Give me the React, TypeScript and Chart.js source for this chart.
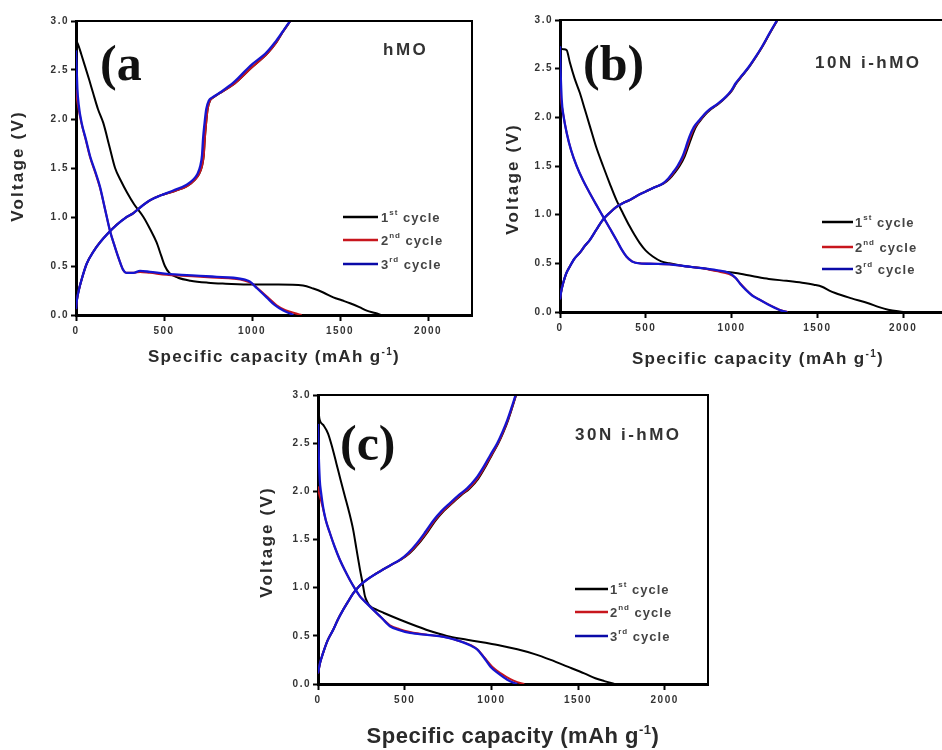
import React, { useEffect, useRef } from 'react';
import { Chart, registerables } from 'chart.js';

Chart.register(...registerables);

type P = [number, number][];

// ---------- axes ----------
const X_TICKS = [0, 500, 1000, 1500, 2000];
const Y_TICKS = [0, 0.5, 1.0, 1.5, 2.0, 2.5, 3.0];
const X_MAX = 2250;
const Y_MAX = 3.0;

// ---------- legend ----------
const CYCLE_LABELS: [string, string, string][] = [
  ['1', 'st', ' cycle'],
  ['2', 'nd', ' cycle'],
  ['3', 'rd', ' cycle'],
];
const CYCLE_COLORS = ['#000000', '#c8161d', '#1515d0'];

// ---------- panel (a) hMO : [capacity mAh/g, voltage V] ----------
const A_C1_DIS: P = [[0,2.80],[12,2.76],[30,2.66],[51,2.54],[75,2.40],[98,2.26],[125,2.10],[155,1.96],[190,1.72],[222,1.50],[255,1.37],[290,1.25],[330,1.13],[383,1.00],[420,0.88],[458,0.74],[485,0.60],[505,0.50],[530,0.43],[580,0.38],[650,0.35],[750,0.33],[850,0.32],[1000,0.31],[1150,0.31],[1290,0.30],[1348,0.27],[1405,0.23],[1462,0.18],[1510,0.15],[1557,0.12],[1610,0.08],[1652,0.044],[1700,0.02],[1737,0.0]];
const A_C1_CHG: P = [[0,0.06],[5,0.15],[13,0.23],[30,0.35],[60,0.52],[100,0.65],[136,0.74],[180,0.83],[231,0.92],[280,0.99],[326,1.04],[380,1.12],[420,1.17],[480,1.22],[553,1.26],[635,1.32],[675,1.38],[700,1.44],[716,1.52],[726,1.63],[732,1.80],[739,1.95],[748,2.10],[762,2.19],[780,2.22],[822,2.27],[900,2.36],[995,2.52],[1088,2.67],[1134,2.77],[1172,2.88],[1218,3.0]];
const A_C2_DIS: P = [[0,2.30],[6,2.20],[15,2.10],[32,1.95],[55,1.79],[80,1.61],[110,1.45],[136,1.30],[165,1.08],[193,0.86],[220,0.70],[250,0.54],[268,0.46],[285,0.43],[326,0.43],[364,0.44],[420,0.43],[515,0.41],[600,0.40],[705,0.39],[800,0.38],[894,0.37],[960,0.35],[1000,0.32],[1040,0.26],[1090,0.18],[1140,0.10],[1190,0.05],[1240,0.02],[1282,0.0]];
const A_C2_CHG: P = [[0,0.06],[5,0.15],[13,0.23],[30,0.35],[60,0.52],[100,0.65],[136,0.74],[180,0.83],[231,0.92],[280,0.99],[326,1.04],[380,1.12],[420,1.17],[480,1.22],[553,1.26],[635,1.32],[675,1.38],[700,1.44],[716,1.52],[726,1.63],[732,1.80],[739,1.95],[748,2.10],[762,2.19],[780,2.22],[822,2.27],[900,2.36],[995,2.52],[1088,2.67],[1134,2.77],[1172,2.88],[1218,3.0]];
const A_C3_DIS: P = [[0,2.70],[4,2.50],[8,2.30],[15,2.15],[32,1.96],[55,1.80],[80,1.62],[110,1.46],[136,1.31],[165,1.08],[193,0.86],[220,0.70],[250,0.54],[268,0.46],[285,0.43],[326,0.43],[364,0.45],[420,0.44],[515,0.42],[600,0.41],[705,0.40],[800,0.39],[894,0.38],[960,0.36],[989,0.34],[1030,0.27],[1083,0.18],[1130,0.10],[1178,0.045],[1210,0.02],[1235,0.0]];
const A_C3_CHG: P = [[0,0.06],[5,0.15],[13,0.23],[30,0.35],[60,0.52],[100,0.65],[136,0.74],[180,0.83],[231,0.92],[280,0.99],[326,1.04],[380,1.12],[420,1.17],[480,1.22],[553,1.27],[629,1.33],[665,1.38],[690,1.44],[706,1.52],[716,1.63],[722,1.80],[730,1.95],[740,2.10],[755,2.19],[775,2.22],[818,2.27],[894,2.37],[989,2.54],[1083,2.68],[1130,2.78],[1170,2.88],[1216,3.0]];

// ---------- panel (b) 10Ni-hMO ----------
const B_C1_DIS: P = [[0,2.71],[20,2.70],[39,2.69],[58,2.56],[85,2.40],[116,2.25],[145,2.08],[174,1.91],[210,1.70],[251,1.50],[290,1.32],[329,1.15],[368,1.01],[406,0.88],[435,0.79],[464,0.71],[500,0.63],[541,0.57],[590,0.52],[638,0.50],[730,0.47],[831,0.45],[930,0.42],[1024,0.40],[1120,0.37],[1217,0.34],[1320,0.32],[1411,0.30],[1480,0.28],[1527,0.26],[1570,0.22],[1604,0.195],[1700,0.14],[1797,0.09],[1860,0.05],[1913,0.024],[2000,0.0]];
const B_C1_CHG: P = [[0,0.13],[8,0.22],[19,0.30],[35,0.39],[58,0.47],[85,0.55],[116,0.61],[145,0.68],[174,0.74],[210,0.84],[251,0.95],[290,1.02],[329,1.08],[368,1.12],[406,1.15],[455,1.20],[502,1.24],[550,1.28],[605,1.32],[640,1.37],[668,1.43],[697,1.50],[727,1.60],[748,1.70],[768,1.80],[792,1.90],[820,1.97],[848,2.03],[878,2.08],[925,2.14],[970,2.21],[1004,2.28],[1028,2.35],[1064,2.43],[1104,2.52],[1142,2.62],[1181,2.73],[1222,2.86],[1268,3.0]];
const B_C2_DIS: P = [[0,2.40],[6,2.20],[12,2.10],[22,2.00],[39,1.84],[65,1.66],[97,1.50],[135,1.35],[174,1.22],[212,1.10],[251,0.98],[290,0.86],[329,0.74],[360,0.64],[387,0.57],[420,0.52],[464,0.50],[550,0.495],[638,0.49],[730,0.47],[831,0.45],[910,0.42],[986,0.39],[1024,0.35],[1052,0.29],[1085,0.23],[1122,0.17],[1160,0.13],[1212,0.08],[1258,0.04],[1292,0.015],[1326,0.0]];
const B_C2_CHG: P = [[0,0.13],[8,0.22],[19,0.30],[35,0.39],[58,0.47],[85,0.55],[116,0.61],[145,0.68],[174,0.74],[210,0.84],[251,0.95],[290,1.02],[329,1.08],[368,1.12],[406,1.15],[455,1.20],[502,1.24],[550,1.28],[602,1.32],[635,1.37],[662,1.43],[690,1.50],[720,1.60],[741,1.70],[760,1.80],[786,1.90],[816,1.97],[844,2.03],[874,2.08],[922,2.14],[968,2.21],[1002,2.28],[1026,2.35],[1062,2.43],[1102,2.52],[1141,2.62],[1180,2.73],[1221,2.86],[1267,3.0]];
const B_C3_DIS: P = [[0,2.73],[4,2.45],[10,2.18],[20,2.02],[39,1.84],[65,1.66],[97,1.50],[135,1.35],[174,1.22],[212,1.10],[251,0.98],[290,0.86],[329,0.74],[360,0.64],[387,0.57],[420,0.52],[464,0.50],[550,0.495],[638,0.49],[730,0.47],[831,0.45],[910,0.43],[986,0.40],[1024,0.35],[1050,0.29],[1082,0.23],[1120,0.17],[1159,0.13],[1210,0.08],[1256,0.04],[1290,0.015],[1324,0.0]];
const B_C3_CHG: P = [[0,0.13],[8,0.22],[19,0.30],[35,0.39],[58,0.47],[85,0.55],[116,0.61],[145,0.68],[174,0.74],[210,0.84],[251,0.95],[290,1.02],[329,1.08],[368,1.12],[406,1.15],[455,1.20],[502,1.24],[550,1.28],[599,1.32],[630,1.37],[657,1.43],[685,1.50],[715,1.60],[735,1.70],[754,1.80],[780,1.90],[812,1.97],[840,2.03],[870,2.08],[920,2.14],[966,2.21],[1000,2.28],[1024,2.35],[1060,2.43],[1101,2.52],[1140,2.62],[1179,2.73],[1220,2.86],[1266,3.0]];

// ---------- panel (c) 30Ni-hMO ----------
const C_C1_DIS: P = [[0,2.92],[5,2.80],[10,2.74],[30,2.69],[58,2.60],[80,2.47],[106,2.29],[130,2.12],[155,1.95],[180,1.78],[203,1.60],[222,1.40],[242,1.19],[258,1.04],[271,0.91],[285,0.85],[300,0.81],[340,0.77],[377,0.74],[470,0.67],[570,0.60],[665,0.54],[763,0.49],[860,0.46],[957,0.43],[1050,0.40],[1150,0.36],[1250,0.31],[1343,0.25],[1440,0.18],[1536,0.11],[1600,0.06],[1652,0.03],[1710,0.0]];
const C_C1_CHG: P = [[0,0.11],[12,0.22],[29,0.32],[55,0.45],[87,0.56],[115,0.67],[145,0.77],[175,0.86],[203,0.94],[240,1.02],[280,1.08],[330,1.14],[377,1.19],[425,1.24],[478,1.29],[530,1.36],[582,1.46],[633,1.58],[680,1.70],[728,1.80],[776,1.88],[826,1.96],[875,2.03],[924,2.13],[968,2.26],[1004,2.38],[1041,2.50],[1071,2.62],[1097,2.74],[1119,2.86],[1143,3.0]];
const C_C2_DIS: P = [[0,2.05],[6,1.98],[18,1.90],[29,1.82],[45,1.70],[68,1.57],[95,1.43],[126,1.29],[155,1.18],[184,1.08],[213,0.99],[242,0.91],[280,0.84],[319,0.77],[365,0.69],[415,0.61],[470,0.57],[531,0.54],[630,0.51],[725,0.49],[790,0.46],[845,0.43],[885,0.40],[925,0.35],[962,0.27],[1005,0.18],[1055,0.11],[1110,0.05],[1150,0.02],[1190,0.0]];
const C_C2_CHG: P = [[0,0.11],[12,0.22],[29,0.32],[55,0.45],[87,0.56],[115,0.67],[145,0.77],[175,0.86],[203,0.94],[240,1.02],[280,1.08],[330,1.14],[377,1.19],[425,1.24],[476,1.29],[526,1.36],[577,1.46],[628,1.58],[675,1.70],[724,1.80],[772,1.88],[821,1.96],[870,2.03],[919,2.13],[964,2.26],[1001,2.38],[1039,2.50],[1069,2.62],[1095,2.74],[1118,2.86],[1142,3.0]];
const C_C3_DIS: P = [[0,2.70],[4,2.40],[10,2.12],[18,1.98],[29,1.84],[45,1.70],[68,1.57],[95,1.43],[126,1.29],[155,1.18],[184,1.08],[213,0.99],[242,0.91],[280,0.84],[319,0.77],[365,0.69],[415,0.60],[470,0.56],[531,0.53],[630,0.51],[725,0.49],[790,0.46],[841,0.43],[880,0.40],[918,0.36],[955,0.28],[995,0.18],[1040,0.11],[1092,0.045],[1125,0.015],[1150,0.0]];
const C_C3_CHG: P = [[0,0.11],[12,0.22],[29,0.32],[55,0.45],[87,0.56],[115,0.67],[145,0.77],[175,0.86],[203,0.94],[240,1.02],[280,1.08],[330,1.14],[377,1.19],[425,1.24],[473,1.29],[520,1.36],[570,1.46],[620,1.58],[667,1.70],[715,1.80],[763,1.88],[812,1.96],[860,2.03],[910,2.13],[957,2.26],[995,2.38],[1034,2.50],[1065,2.62],[1092,2.74],[1115,2.86],[1140,3.0]];

// ---------- panel text ----------
const PANEL_LABELS = ['(a', '(b)', '(c)'];
const SAMPLE_NAMES = ['hMO', '10N i-hMO', '30N i-hMO'];
const Y_TITLE = 'Voltage (V)';
const X_TITLE_MAIN = 'Specific capacity (mAh g';
const X_TITLE_SUP = '-1';
const X_TITLE_END = ')';

const SANS = "'Liberation Sans', Arial, sans-serif";
const SERIF = "'Liberation Serif', 'Times New Roman', serif";

type Layout = {
  x: number; y: number; w: number; h: number;
  padTop: number; padRight: number; yW: number; xH: number;
  labelPos: [number, number];
  samplePos: [number, number];
  yTitle: [number, number];
  xTitle: [number, number];
  xTitleSize: number; xTitleSpacing: number;
  legLine: [number, number, number];
  legRows: number[];
};

const LAYOUTS: Layout[] = [
  { x: 0, y: 0, w: 480, h: 372, padTop: 21, padRight: 8, yW: 76, xH: 57,
    labelPos: [100, 80], samplePos: [383, 55], yTitle: [23, 166], xTitle: [274, 362],
    xTitleSize: 17, xTitleSpacing: 1.35, legLine: [343, 378, 381], legRows: [217, 240, 264] },
  { x: 480, y: 0, w: 470, h: 372, padTop: 20, padRight: 4, yW: 80, xH: 60,
    labelPos: [583, 80], samplePos: [815, 68], yTitle: [518, 179], xTitle: [758, 364],
    xTitleSize: 17, xTitleSpacing: 1.35, legLine: [822, 853, 855], legRows: [222, 247, 269] },
  { x: 240, y: 375, w: 480, h: 375, padTop: 20, padRight: 12, yW: 78, xH: 66,
    labelPos: [340, 460], samplePos: [575, 440], yTitle: [272, 542], xTitle: [513, 743],
    xTitleSize: 22, xTitleSpacing: 0.5, legLine: [575, 608, 610], legRows: [589, 612, 636] },
];

const PANEL_DATA: P[][] = [
  [A_C1_DIS, A_C1_CHG, A_C2_DIS, A_C2_CHG, A_C3_DIS, A_C3_CHG],
  [B_C1_DIS, B_C1_CHG, B_C2_DIS, B_C2_CHG, B_C3_DIS, B_C3_CHG],
  [C_C1_DIS, C_C1_CHG, C_C2_DIS, C_C2_CHG, C_C3_DIS, C_C3_CHG],
];

type Part = { t: string; sup?: boolean };

function drawRich(ctx: CanvasRenderingContext2D, parts: Part[], x: number, y: number, size: number, supSize: number, align: 'left' | 'center', color: string) {
  const widths = parts.map((p) => {
    ctx.font = `bold ${p.sup ? supSize : size}px ${SANS}`;
    return ctx.measureText(p.t).width;
  });
  const total = widths.reduce((a, b) => a + b, 0);
  let cx = align === 'center' ? x - total / 2 : x;
  ctx.fillStyle = color;
  ctx.textAlign = 'left';
  parts.forEach((p, i) => {
    ctx.font = `bold ${p.sup ? supSize : size}px ${SANS}`;
    ctx.fillText(p.t, cx, p.sup ? y - size * 0.42 : y);
    cx += widths[i];
  });
}

function makeOverlay(idx: number) {
  const L = LAYOUTS[idx];
  return {
    id: 'overlay' + idx,
    beforeDraw(chart: any) {
      (chart.ctx as any).letterSpacing = '1.5px';
    },
    afterDraw(chart: any) {
      const ctx: CanvasRenderingContext2D = chart.ctx;
      const { left, top, right, bottom } = chart.chartArea;
      const ox = L.x, oy = L.y;
      ctx.save();
      (ctx as any).letterSpacing = '0px';
      // frame top & right
      ctx.strokeStyle = '#000';
      ctx.lineWidth = 2;
      ctx.beginPath();
      ctx.moveTo(left, top);
      ctx.lineTo(right, top);
      ctx.lineTo(right, bottom);
      ctx.stroke();

      // panel label
      ctx.fillStyle = '#111';
      ctx.font = `bold 50px ${SERIF}`;
      ctx.textAlign = 'left';
      ctx.textBaseline = 'alphabetic';
      ctx.fillText(PANEL_LABELS[idx], L.labelPos[0] - ox, L.labelPos[1] - oy);

      // sample name
      (ctx as any).letterSpacing = '2.5px';
      ctx.fillStyle = '#333';
      ctx.font = `bold 17px ${SANS}`;
      ctx.fillText(SAMPLE_NAMES[idx], L.samplePos[0] - ox, L.samplePos[1] - oy);

      // y title
      (ctx as any).letterSpacing = '2.2px';
      ctx.save();
      ctx.translate(L.yTitle[0] - ox, L.yTitle[1] - oy);
      ctx.rotate(-Math.PI / 2);
      ctx.font = `bold 17px ${SANS}`;
      ctx.textAlign = 'center';
      ctx.fillStyle = '#2a2a2a';
      ctx.fillText(Y_TITLE, 0, 0);
      ctx.restore();

      // x title
      (ctx as any).letterSpacing = `${L.xTitleSpacing}px`;
      drawRich(ctx, [{ t: X_TITLE_MAIN }, { t: X_TITLE_SUP, sup: true }, { t: X_TITLE_END }],
        L.xTitle[0] - ox, L.xTitle[1] - oy, L.xTitleSize, Math.round(L.xTitleSize * 0.6), 'center', '#2a2a2a');

      // legend
      ctx.textBaseline = 'middle';
      CYCLE_LABELS.forEach((lab, i) => {
        const ry = L.legRows[i] - oy;
        ctx.strokeStyle = CYCLE_COLORS[i] === '#1515d0' ? '#0a0aa8' : CYCLE_COLORS[i];
        ctx.lineWidth = 2.5;
        ctx.beginPath();
        ctx.moveTo(L.legLine[0] - ox, ry);
        ctx.lineTo(L.legLine[1] - ox, ry);
        ctx.stroke();
        (ctx as any).letterSpacing = '1px';
        drawRich(ctx, [{ t: lab[0] }, { t: lab[1], sup: true }, { t: lab[2] }],
          L.legLine[2] - ox, ry + 1, 13, 8, 'left', '#444');
      });
      ctx.restore();
      (ctx as any).letterSpacing = '0px';
    },
  };
}

function Panel({ idx }: { idx: number }) {
  const ref = useRef<HTMLCanvasElement>(null);
  const L = LAYOUTS[idx];
  useEffect(() => {
    const series = PANEL_DATA[idx];
    const datasets: any[] = [];
    series.forEach((pts, k) => {
      const cyc = Math.floor(k / 2);
      datasets.push({
        label: CYCLE_LABELS[cyc].join('') + (k % 2 ? ' charge' : ' discharge'),
        data: pts.map(([x, y]) => ({ x, y })),
        borderColor: CYCLE_COLORS[cyc],
        backgroundColor: CYCLE_COLORS[cyc],
        borderWidth: cyc === 2 ? 2.3 : 2,
        pointRadius: 0,
        fill: false,
        cubicInterpolationMode: 'monotone',
        order: 2 - cyc,
      });
    });
    const tickFont = { family: SANS, size: 10, weight: 'bold' as const };
    const chart = new Chart(ref.current!, {
      type: 'line',
      data: { datasets },
      options: {
        responsive: false,
        animation: false,
        devicePixelRatio: 1,
        layout: { padding: { top: L.padTop, right: L.padRight, left: 0, bottom: 0 } },
        plugins: { legend: { display: false }, tooltip: { enabled: false } },
        scales: {
          x: {
            type: 'linear',
            min: 0,
            max: X_MAX,
            afterBuildTicks: (s: any) => { s.ticks = X_TICKS.map((v) => ({ value: v })); },
            afterFit: (s: any) => { s.height = L.xH; },
            grid: { drawOnChartArea: false, drawTicks: true, tickLength: 6, tickColor: '#000', tickWidth: 2 },
            border: { display: true, color: '#000', width: 3 },
            ticks: { color: '#333', font: tickFont, padding: 4, maxRotation: 0, autoSkip: false, callback: (v: any) => String(v) },
          },
          y: {
            type: 'linear',
            min: 0,
            max: Y_MAX,
            afterBuildTicks: (s: any) => { s.ticks = Y_TICKS.map((v) => ({ value: v })); },
            afterFit: (s: any) => { s.width = L.yW; },
            grid: { drawOnChartArea: false, drawTicks: true, tickLength: 5, tickColor: '#000', tickWidth: 2 },
            border: { display: true, color: '#000', width: 3 },
            ticks: { color: '#333', font: tickFont, padding: 2, autoSkip: false, callback: (v: any) => Number(v).toFixed(1) },
          },
        },
      },
      plugins: [makeOverlay(idx)],
    });
    return () => chart.destroy();
  }, []);
  return (
    <canvas
      ref={ref}
      width={L.w}
      height={L.h}
      style={{ position: 'absolute', left: L.x, top: L.y, width: L.w, height: L.h }}
    />
  );
}

export default function App() {
  return (
    <div style={{ position: 'absolute', left: 0, top: 0, width: 942, height: 750, overflow: 'hidden', background: '#fff' }}>
      <Panel idx={0} />
      <Panel idx={1} />
      <Panel idx={2} />
    </div>
  );
}
